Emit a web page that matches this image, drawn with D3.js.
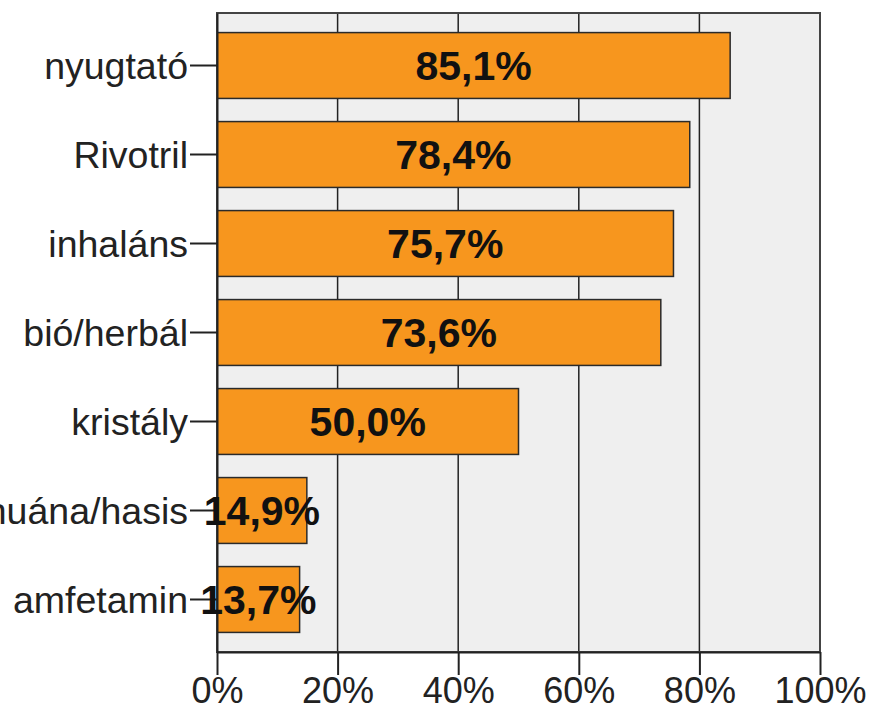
<!DOCTYPE html>
<html>
<head>
<meta charset="utf-8">
<script src="https://cdn.jsdelivr.net/npm/d3@7"></script>
<style>
  body { margin: 0; background: #fff; }
  svg { display: block; font-family: "Liberation Sans", Arial, sans-serif; }
</style>
</head>
<body>
<div id="chart"></div>
<script>
// categories, top to bottom
const categories = ['nyugtató', 'Rivotril', 'inhaláns', 'bió/herbál', 'kristály', 'marihuána/hasis', 'amfetamin'];
const values = [85.1, 78.4, 75.7, 73.6, 50.0, 14.9, 13.7];
const xTicks = [0, 20, 40, 60, 80, 100];

const W = 870, H = 717;
const margin = { left: 217, right: 50, top: 13, bottom: 65 };

const svg = d3.select('#chart').append('svg')
  .attr('width', W)
  .attr('height', H);

const x = d3.scaleLinear()
  .domain([0, 100])
  .range([margin.left, W - margin.right]);

const y = d3.scaleBand()
  .domain(categories)
  .range([margin.top, H - margin.bottom])
  .paddingInner(0.26)
  .paddingOuter(0.22);

// plot background
svg.append('rect')
  .attr('x', x(0))
  .attr('y', margin.top)
  .attr('width', x(100) - x(0))
  .attr('height', H - margin.bottom - margin.top)
  .attr('fill', '#efefef');

// vertical grid
svg.append('g')
  .selectAll('line')
  .data(xTicks)
  .join('line')
  .attr('x1', d => x(d))
  .attr('x2', d => x(d))
  .attr('y1', margin.top)
  .attr('y2', H - margin.bottom)
  .attr('stroke', '#222')
  .attr('stroke-width', 1.5);

// bars
svg.append('g')
  .selectAll('rect')
  .data(values)
  .join('rect')
  .attr('x', x(0))
  .attr('y', (d, i) => y(categories[i]))
  .attr('width', d => x(d) - x(0))
  .attr('height', y.bandwidth())
  .attr('fill', '#f7961e')
  .attr('stroke', '#2a2a2a')
  .attr('stroke-width', 1.5);

// frame
svg.append('rect')
  .attr('x', x(0))
  .attr('y', margin.top)
  .attr('width', x(100) - x(0))
  .attr('height', H - margin.bottom - margin.top)
  .attr('fill', 'none')
  .attr('stroke', '#444')
  .attr('stroke-width', 2);

// x axis
const xAxis = d3.axisBottom(x)
  .tickValues(xTicks)
  .tickFormat(d => d + '%')
  .tickSizeInner(23)
  .tickSizeOuter(0)
  .tickPadding(2);
const gx = svg.append('g')
  .attr('transform', `translate(0, ${H - margin.bottom})`)
  .call(xAxis);
gx.select('.domain').attr('stroke', '#222').attr('stroke-width', 2);
gx.selectAll('.tick line').attr('stroke', '#222').attr('stroke-width', 2);
gx.selectAll('.tick text')
  .attr('font-size', 36)
  .attr('fill', '#222')
  .attr('font-family', '"Liberation Sans", Arial, sans-serif');

// y axis
const yAxis = d3.axisLeft(y)
  .tickSizeInner(27)
  .tickSizeOuter(0)
  .tickPadding(2);
const gy = svg.append('g')
  .attr('transform', `translate(${x(0)}, 0)`)
  .call(yAxis);
gy.select('.domain').attr('stroke', '#222').attr('stroke-width', 2);
gy.selectAll('.tick line').attr('stroke', '#222').attr('stroke-width', 2);
gy.selectAll('.tick text')
  .attr('font-size', 37.5)
  .attr('fill', '#222')
  .attr('dy', '0.35em')
  .attr('font-family', '"Liberation Sans", Arial, sans-serif');

// value labels
svg.append('g')
  .selectAll('text')
  .data(values)
  .join('text')
  .attr('x', d => (x(0) + x(d)) / 2)
  .attr('y', (d, i) => y(categories[i]) + y.bandwidth() / 2)
  .attr('dy', '0.36em')
  .attr('text-anchor', 'middle')
  .attr('font-size', 41)
  .attr('font-weight', 'bold')
  .attr('fill', '#111')
  .text(d => d.toFixed(1).replace('.', ',') + '%');
</script>
</body>
</html>
